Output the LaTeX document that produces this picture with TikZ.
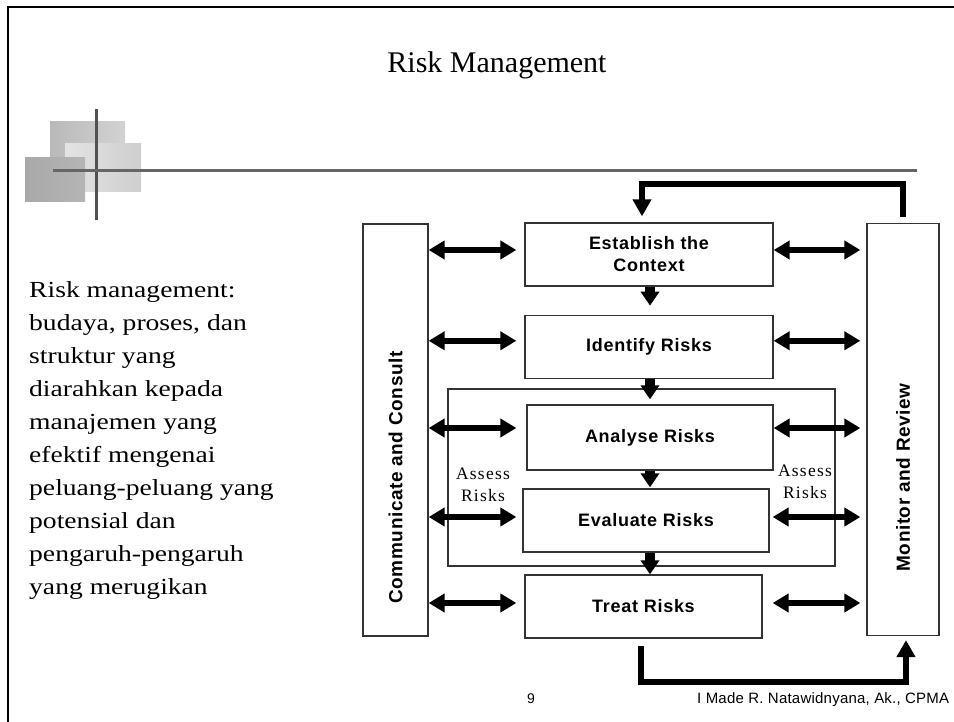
\documentclass[tikz,border=0pt]{standalone}
\usepackage{fontspec}
\setmainfont{Liberation Serif}
\setsansfont{Liberation Sans}
\newfontfamily\descfont{Liberation Serif}[FakeStretch=1.2]
\newfontfamily\assessfont{Liberation Serif}[LetterSpace=7]
\newfontfamily\boxfont{Liberation Sans}[LetterSpace=4]
\newfontfamily\sidefont{Liberation Sans}[LetterSpace=3]
\newfontfamily\footfont{Liberation Sans}[LetterSpace=1.5]
\usetikzlibrary{arrows.meta,positioning}

\tikzset{
  procbox/.style={draw=black!80, line width=1.3pt, minimum width=248pt, minimum height=63pt,
    inner sep=0pt, align=center, font=\boxfont\bfseries\fontsize{18}{22}\selectfont},
  sidebox/.style={draw=black!80, line width=1.3pt, minimum height=412pt, inner sep=0pt},
  sidelabel/.style={rotate=90, inner sep=0pt, font=\sidefont\bfseries\fontsize{19}{22}\selectfont},
  assessbox/.style={draw=black!80, line width=1.3pt, minimum width=387pt, minimum height=177pt, inner sep=0pt},
  assesslabel/.style={anchor=north, inner sep=0pt, align=center, font=\assessfont\fontsize{17.5}{22}\selectfont},
  dbl/.style={line width=6pt, {Triangle[length=16pt,width=18pt]}-{Triangle[length=16pt,width=18pt]}},
  dn/.style={line width=10pt, -{Triangle[length=14pt,width=18pt]}},
  loopline/.style={line width=6.5pt, -{Triangle[length=17pt,width=18pt]}}
}

\begin{document}
\begin{tikzpicture}[x=1pt,y=-1pt]
  \useasboundingbox (0,0) rectangle (954,722);

  %frame
  \draw[line width=2pt] (8,730) -- (8,7) -- (960,7);

  %logo
  \shade[left color=gray!55, right color=gray!35] (50,122) rectangle (125,170);
  \shade[left color=gray!22, right color=gray!38] (65,144) rectangle (141,192);
  \shade[left color=gray!68, right color=gray!58] (25,158) rectangle (85,202);
  \draw[line width=3pt, black!68] (96,109) -- (96,220);
  \draw[line width=3pt, black!60] (53,171) -- (917,171);

  %title
  \node[anchor=base, inner sep=0pt, font=\fontsize{30}{36}\selectfont] (title) at (497,73) {Risk Management};

  %left text
  \node[anchor=north west, inner sep=0pt, align=left, font=\descfont\fontsize{23}{33}\selectfont] (desc) at (29,281)
    {Risk management:\\budaya, proses, dan\\struktur yang\\diarahkan kepada\\manajemen yang\\efektif mengenai\\peluang-peluang yang\\potensial dan\\pengaruh-pengaruh\\yang merugikan};

  %boxes
  \node[procbox] (ctx) at (649,254.5) {Establish the\\Context};
  \node[procbox, below=28pt of ctx] (idr) {Identify Risks};
  \node[assessbox] (asz) at (641.5,477.5) {};
  \node[procbox, minimum width=246pt, minimum height=65pt] (anr) at (650,437.5) {Analyse Risks};
  \node[procbox, minimum width=246pt] (evr) at (646,520.5) {Evaluate Risks};
  \node[procbox, minimum width=237pt] (trr) at (643.5,606.5) {Treat Risks};
  \node[sidebox, minimum width=65pt] (cc) at (395.5,430) {};
  \node[sidebox, minimum width=72pt] (mr) at (903,429.5) {};
  \node[sidelabel] (cclab) at (cc |- asz) {Communicate and Consult};
  \node[sidelabel] (mrlab) at (mr |- asz) {Monitor and Review};
  \node[assesslabel] (asl) at (483,468) {Assess\\Risks};
  \node[assesslabel] (asr) at (805,465) {Assess\\Risks};

  %side arrows
  \foreach \b/\dy/\ls/\rs in {ctx/4.5/8/0, idr/6/8/0, anr/9.5/10/0, evr/3.5/6/3, trr/3.5/8/10} {
    \draw[dbl, shorten >=\ls pt] ([yshift=\dy pt]cc.east |- \b.west) -- ([yshift=\dy pt]\b.west);
    \draw[dbl, shorten <=\rs pt, shorten >=6pt] ([yshift=\dy pt]\b.east) -- ([yshift=\dy pt]\b.east -| mr.west);
  }

  %down arrows
  \draw[dn, shorten >=9pt] ([xshift=1pt]ctx.south) -- ([xshift=1pt]idr.north);
  \draw[dn, shorten >=5pt] ([xshift=1pt]idr.south) -- (anr.north);
  \draw[dn, shorten >=1pt] (anr.south) -- (anr.south |- evr.north);
  \draw[dn] ([xshift=4pt]evr.south) -- ([xshift=4pt]evr.south |- trr.north);

  %loops
  \coordinate (topy) at (0,184);
  \coordinate (boty) at (0,682);
  \draw[loopline, shorten <=6pt, shorten >=6pt] (mr.north) -- (mr.north |- topy) -| ([xshift=-7pt]ctx.north);
  \draw[loopline, shorten <=7pt, shorten >=4pt] ([xshift=-2.5pt]trr.south) -- ([xshift=-2.5pt]trr.south |- boty) -| ([xshift=3pt]mr.south);

  %footer
  \node[anchor=base, inner sep=0pt, font=\sffamily\fontsize{14}{16}\selectfont] (pgno) at (531,703) {9};
  \node[anchor=base west, inner sep=0pt, font=\footfont\fontsize{15}{17}\selectfont] (author) at (697,703) {I Made R. Natawidnyana, Ak., CPMA};
\end{tikzpicture}
\end{document}
